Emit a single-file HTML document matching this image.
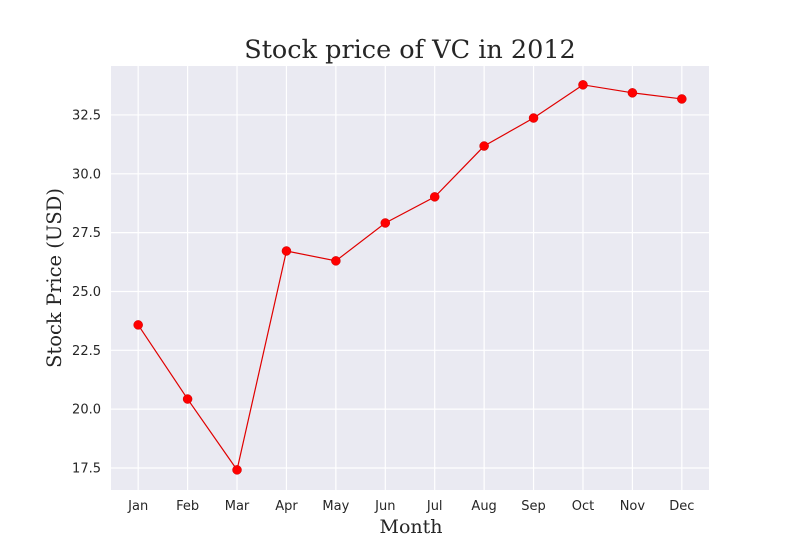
<!DOCTYPE html>
<html><head><meta charset="utf-8"><style>
body{margin:0;background:#fff;}
svg{display:block;}
</style></head><body>
<svg id="chart" width="800" height="550" xmlns="http://www.w3.org/2000/svg">
<rect x="0" y="0" width="800" height="550" fill="#fff"/>
<rect x="111" y="66" width="598" height="424" fill="#eaeaf2"/>
<g id="grid"></g><g id="ticks"></g><g id="series"></g>
<text x="410" y="58" text-anchor="middle" font-family="DejaVu Serif, serif" font-size="25.5" fill="#262626">Stock price of VC in 2012</text>
<text x="411" y="533" text-anchor="middle" font-family="DejaVu Serif, serif" font-size="19" fill="#262626">Month</text>
<text transform="translate(61,278) rotate(-90)" text-anchor="middle" font-family="DejaVu Serif, serif" font-size="19.5" fill="#262626">Stock Price (USD)</text>
</svg>
<script>
const months=["Jan","Feb","Mar","Apr","May","Jun","Jul","Aug","Sep","Oct","Nov","Dec"];
const prices=[23.58,20.43,17.42,26.72,26.30,27.91,29.02,31.18,32.37,33.78,33.44,33.18];
const yTicks=[17.5,20.0,22.5,25.0,27.5,30.0,32.5];
const NS="http://www.w3.org/2000/svg";
const L=111,R=709,T=66,B=490;
const xmin=-0.55,xmax=months.length-1+0.55,ymin=16.565,ymax=34.58;
const xs=i=>L+(i-xmin)/(xmax-xmin)*(R-L);
const ys=v=>B-(v-ymin)/(ymax-ymin)*(B-T);
function mk(tag,attrs,parent){const e=document.createElementNS(NS,tag);for(const k in attrs)e.setAttribute(k,attrs[k]);parent.appendChild(e);return e;}
const grid=document.getElementById('grid'),ticks=document.getElementById('ticks'),series=document.getElementById('series');
months.forEach((m,i)=>{
 const g=mk('line',{x1:xs(i),x2:xs(i),y1:T,y2:B,stroke:'#fff','stroke-width':1.2},grid);
 
 
 const t=mk('text',{x:xs(i),y:510,'text-anchor':'middle','font-family':'DejaVu Sans, sans-serif','font-size':13,fill:'#262626'},ticks);
 t.textContent=m;
 
 
});
yTicks.forEach(v=>{
 const g=mk('line',{x1:L,x2:R,y1:ys(v),y2:ys(v),stroke:'#fff','stroke-width':1.2},grid);
 
 
 const t=mk('text',{x:101,y:ys(v)+4.5,'text-anchor':'end','font-family':'DejaVu Sans, sans-serif','font-size':13,fill:'#262626'},ticks);
 t.textContent=v.toFixed(1);
 
 
});
const pl=mk('polyline',{points:prices.map((p,i)=>xs(i)+','+ys(p)).join(' '),fill:'none',stroke:'#e00000','stroke-width':1.2},series);


prices.forEach((p,i)=>{
 const c=mk('circle',{cx:xs(i),cy:ys(p),r:4.5,fill:'#ff0000',stroke:'#cc0000','stroke-width':0.5},series);
 
 
});
</script>
</body></html>
